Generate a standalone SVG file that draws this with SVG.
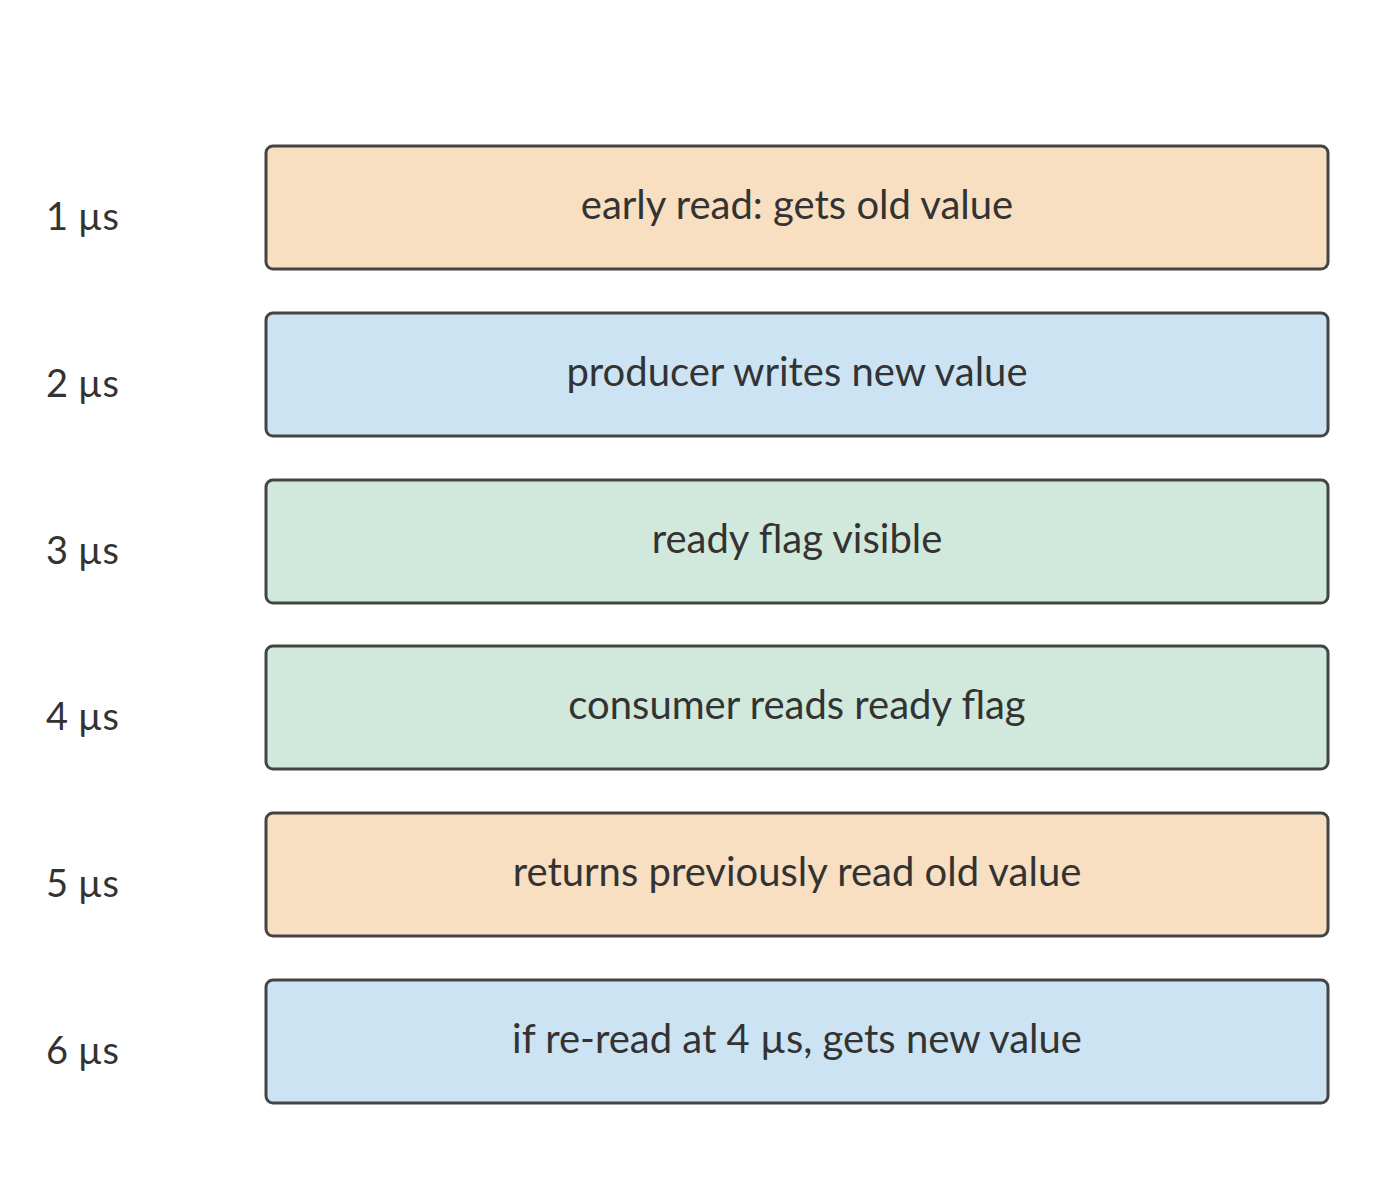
<svg xmlns="http://www.w3.org/2000/svg" width="1400" height="1202" viewBox="0 0 1400 1202">
<style>
.box{stroke:#444;stroke-width:3}
.o{fill:#f8dfc1}.b{fill:#cce3f3}.g{fill:#d1e8dc}
text{font-family:Lato,"Open Sans",sans-serif;font-size:40px;fill:#333}
.c{text-anchor:middle;dominant-baseline:central}
.l{dominant-baseline:central;font-size:38px}
</style>
<rect width="1400" height="1202" fill="#fff"/>
<g id="n1"><rect class="box o" x="266" y="146" width="1062" height="123" rx="7"/><text class="c" x="797" y="204">early read: gets old value</text><text class="l" x="46" y="215">1 µs</text></g>
<g id="n2"><rect class="box b" x="266" y="313" width="1062" height="123" rx="7"/><text class="c" x="797" y="371">producer writes new value</text><text class="l" x="46" y="382">2 µs</text></g>
<g id="n3"><rect class="box g" x="266" y="480" width="1062" height="123" rx="7"/><text class="c" x="797" y="538">ready flag visible</text><text class="l" x="46" y="549">3 µs</text></g>
<g id="n4"><rect class="box g" x="266" y="646" width="1062" height="123" rx="7"/><text class="c" x="797" y="704">consumer reads ready flag</text><text class="l" x="46" y="715">4 µs</text></g>
<g id="n5"><rect class="box o" x="266" y="813" width="1062" height="123" rx="7"/><text class="c" x="797" y="871">returns previously read old value</text><text class="l" x="46" y="882">5 µs</text></g>
<g id="n6"><rect class="box b" x="266" y="980" width="1062" height="123" rx="7"/><text class="c" x="797" y="1038">if re-read at 4 µs, gets new value</text><text class="l" x="46" y="1049">6 µs</text></g>
<g id="connectors"></g>
</svg>
